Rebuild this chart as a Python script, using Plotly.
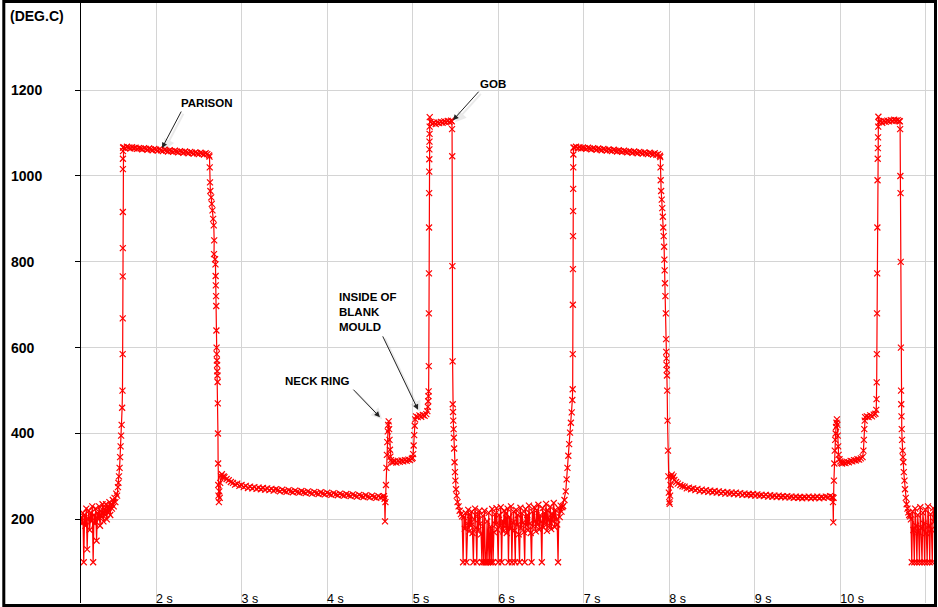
import plotly.graph_objects as go

# ---------------- axis ticks ----------------
time_ticks = [2, 3, 4, 5, 6, 7, 8, 9, 10, 11]
time_tick_labels = ["2 s", "3 s", "4 s", "5 s", "6 s", "7 s", "8 s", "9 s", "10 s", ""]
temp_ticks = [200, 400, 600, 800, 1000, 1200]
temp_tick_labels = ["200\u2007", "400\u2007", "600\u2007", "800\u2007", "1000", "1200"]

# ---------------- data (time s, temperature deg C) ----------------
# uniformly sampled stretches: start time, sample step, temperatures
noise1_t0, noise1_dt = 1.125, 0.01
noise1_temp = [205, 190, 215, 100, 210, 185, 225, 130, 200, 220, 175, 215, 195, 230, 100, 210, 190, 225, 150, 215,
               200, 230, 185, 220, 205, 235, 195, 225, 210, 235, 200, 230, 215, 240, 210, 235, 225, 245, 230, 250,
               240, 260, 255, 275]

rise1_time = [1.560, 1.567, 1.574, 1.580, 1.586, 1.592, 1.598, 1.604, 1.608, 1.610, 1.611, 1.611, 1.612, 1.612,
              1.613, 1.613, 1.614, 1.615]
rise1_temp = [285, 300, 320, 345, 370, 395, 420, 460, 500, 585, 668, 766, 832, 916, 1016, 1040, 1058, 1066]

parison1_t0, parison1_dt = 1.62, 0.02
parison1_temp = [1067, 1065, 1068, 1066, 1064, 1067, 1065, 1066, 1063, 1065,
                 1064, 1062, 1065, 1063, 1061, 1064, 1062, 1060, 1063, 1061,
                 1059, 1062, 1060, 1058, 1061, 1059, 1057, 1060, 1058, 1056,
                 1059, 1057, 1055, 1058, 1056, 1054, 1057, 1055, 1053, 1056,
                 1054, 1052, 1055, 1053, 1051, 1054, 1052, 1050, 1053, 1051,
                 1048]

fall1_time = [2.625, 2.628, 2.631, 2.635, 2.645, 2.652, 2.660, 2.668, 2.675, 2.680, 2.678, 2.690, 2.695, 2.697,
              2.699, 2.702, 2.704, 2.706, 2.708, 2.710, 2.712, 2.714, 2.716, 2.718, 2.720, 2.722, 2.724, 2.726,
              2.728, 2.730, 2.735, 2.740, 2.745, 2.750, 2.760, 2.770, 2.780, 2.790]
fall1_temp = [1045, 1020, 985, 965, 950, 935, 920, 900, 885, 850, 818, 806, 794, 767,
              745, 720, 697, 640, 600, 585, 570, 560, 545, 535, 520, 470, 400, 330,
              280, 255, 240, 265, 250, 285, 300, 305, 298, 300]

decay1_t0, decay1_dt = 2.80, 0.025
decay1_temp = [298, 294, 291, 287, 285, 281, 283, 278, 280, 275,
               278, 273, 276, 272, 275, 271, 274, 270, 273, 269,
               272, 268, 271, 267, 270, 268, 265, 269, 266, 264,
               268, 265, 263, 267, 264, 262, 266, 263, 261, 265,
               262, 260, 264, 261, 259, 263, 260, 258, 262, 259,
               257, 261, 258, 256, 260, 257, 255, 259, 256, 254,
               258, 255, 253, 257, 254, 252, 256, 253, 251, 255,
               252, 250, 254, 251, 253]

neck1_time = [4.665, 4.672, 4.677, 4.682, 4.688, 4.694, 4.699, 4.704, 4.709, 4.714, 4.720, 4.725, 4.730, 4.735,
              4.740, 4.747, 4.755]
neck1_temp = [254, 248, 195, 240, 280, 320, 350, 380, 405, 420, 428, 410, 385, 362, 346, 338, 334]

flat1_t0, flat1_dt = 4.77, 0.02
flat1_temp = [333, 335, 332, 336, 334, 337, 335, 338, 336, 339, 338, 341]

step1_time = [5.000, 5.006, 5.012, 5.018, 5.024, 5.030, 5.040, 5.060, 5.080, 5.100, 5.120, 5.140, 5.160, 5.172,
              5.178, 5.182, 5.185, 5.187, 5.189, 5.190, 5.191, 5.192, 5.193, 5.194, 5.195, 5.196, 5.197, 5.198,
              5.199, 5.200]
step1_temp = [343, 352, 372, 396, 418, 433, 440, 438, 442, 439, 443, 441, 445, 452,
              462, 475, 487, 498, 557, 680, 773, 880, 960, 1010, 1039, 1062, 1080, 1098,
              1115, 1137]

gob1_t0, gob1_dt = 5.21, 0.02
gob1_temp = [1126, 1122, 1124, 1121, 1125, 1123, 1126, 1124, 1127, 1125, 1128, 1126, 1129]

drop1_time = [5.458, 5.461, 5.463, 5.465, 5.467, 5.469, 5.472, 5.475, 5.479, 5.482, 5.485, 5.490, 5.495, 5.500,
              5.507, 5.515, 5.525, 5.537, 5.550, 5.565, 5.578]
drop1_temp = [1127, 1109, 1046, 790, 568, 468, 450, 430, 410, 390, 365, 333, 310, 290,
              270, 255, 240, 230, 220, 212, 207]

noise2_t0, noise2_dt = 5.59, 0.01
noise2_temp = [100, 205, 178, 215, 100, 190, 222, 172, 210, 185,
               218, 168, 100, 200, 225, 180, 100, 212, 175, 220,
               190, 165, 100, 208, 100, 220, 100, 100, 195, 100,
               215, 100, 183, 100, 224, 100, 170, 212, 188, 226,
               176, 100, 210, 185, 228, 100, 196, 172, 220, 182,
               214, 168, 225, 100, 205, 178, 230, 100, 192, 218,
               174, 100, 222, 186, 210, 165, 100, 227, 180, 214,
               192, 170, 100, 224, 186, 210, 175, 232, 190, 168,
               100, 218, 183, 228, 196, 172, 221, 187, 234, 176,
               209, 194, 100, 226, 181, 215, 190, 236, 173, 220,
               198, 185, 229, 177, 213, 195, 238, 182, 222, 200,
               188, 100, 225, 205, 232, 218, 228]

rise2_time = [6.760, 6.775, 6.790, 6.800, 6.810, 6.820, 6.830, 6.840, 6.850, 6.860, 6.867, 6.871, 6.872, 6.873,
              6.874, 6.875, 6.876, 6.877, 6.878, 6.879, 6.880]
rise2_temp = [231, 245, 265, 293, 320, 348, 375, 402, 425, 449, 478, 503, 585, 700,
              783, 860, 918, 970, 1020, 1050, 1066]

parison2_t0, parison2_dt = 6.89, 0.02
parison2_temp = [1066, 1068, 1065, 1067, 1064, 1066, 1065, 1063, 1066, 1064,
                 1062, 1065, 1063, 1061, 1064, 1062, 1060, 1063, 1061, 1059,
                 1062, 1060, 1058, 1061, 1059, 1057, 1060, 1058, 1056, 1059,
                 1057, 1055, 1058, 1056, 1054, 1057, 1055, 1053, 1056, 1054,
                 1052, 1055, 1053, 1051, 1054, 1052, 1050, 1053, 1049, 1051,
                 1047]

fall2_time = [7.895, 7.898, 7.900, 7.905, 7.912, 7.918, 7.925, 7.930, 7.935, 7.940,
              7.943, 7.946, 7.950, 7.955, 7.960, 7.963, 7.965, 7.967, 7.969, 7.971,
              7.973, 7.976, 7.980, 7.985, 7.990, 7.995, 8.000, 8.005, 8.010, 8.015,
              8.020, 8.030, 8.040, 8.050, 8.060, 8.080, 8.100, 8.130, 8.155]
fall2_temp = [1044, 1020, 990, 965, 945, 925, 905, 880, 860, 835,
              805, 780, 750, 720, 680, 620, 590, 575, 560, 548,
              535, 500, 430, 360, 300, 262, 240, 236, 255, 280,
              300, 304, 296, 300, 292, 287, 283, 280, 277]

decay2_t0, decay2_dt = 8.18, 0.025
decay2_temp = [276, 272, 274, 270, 272, 268, 271, 266, 269, 265,
               268, 264, 267, 263, 266, 262, 265, 261, 264, 260,
               263, 260, 262, 259, 262, 258, 261, 257, 260, 257,
               259, 256, 259, 255, 258, 255, 257, 254, 257, 253,
               256, 253, 255, 252, 255, 252, 254, 251, 254, 251,
               253, 250, 253, 250, 252, 249, 252, 250, 253, 249,
               252, 250, 253, 249, 252, 250, 253, 251, 254, 252]

neck2_time = [9.910, 9.914, 9.918, 9.921, 9.925, 9.930, 9.935, 9.940, 9.945, 9.950, 9.955, 9.960, 9.965, 9.970,
              9.975, 9.980, 9.990, 10.000, 10.010]
neck2_temp = [251, 240, 193, 250, 290, 330, 360, 385, 400, 415, 425, 433, 420, 395,
              370, 350, 340, 335, 332]

flat2_t0, flat2_dt = 10.02, 0.02
flat2_temp = [330, 332, 331, 334, 333, 336, 335, 338, 337, 340, 339, 342, 345]

step2_time = [10.270, 10.275, 10.280, 10.285, 10.290, 10.310, 10.330, 10.350, 10.370, 10.390, 10.410, 10.420,
              10.423, 10.425, 10.427, 10.429, 10.431, 10.433, 10.435, 10.437, 10.439, 10.441, 10.443, 10.445]
step2_temp = [360, 385, 410, 430, 438, 440, 438, 442, 440, 444, 446, 455,
              480, 519, 585, 680, 773, 880, 990, 1040, 1065, 1090, 1115, 1138]

gob2_t0, gob2_dt = 10.45, 0.02
gob2_temp = [1125, 1127, 1124, 1128, 1126, 1129, 1127, 1130, 1128, 1131, 1129, 1130, 1128]

drop2_time = [10.696, 10.699, 10.702, 10.704, 10.706, 10.708, 10.710, 10.712, 10.715, 10.718, 10.722, 10.727,
              10.732, 10.737, 10.742, 10.750, 10.756, 10.765, 10.775, 10.785, 10.795, 10.805, 10.815]
drop2_temp = [1127, 1109, 1000, 960, 800, 600, 500, 468, 440, 410, 385, 360,
              345, 333, 310, 290, 270, 250, 235, 225, 216, 210, 207]

noise3_t0, noise3_dt = 10.825, 0.01
noise3_temp = [200, 100, 218, 175, 100, 225, 185, 100, 210, 170, 100, 228, 180, 100,
               215, 190, 100, 222, 168, 100, 230, 185, 100, 212, 176, 100, 226, 194]


def sampled(t0, dt, temps):
    return [round(t0 + i * dt, 4) for i in range(len(temps))], list(temps)


segments = [
    sampled(noise1_t0, noise1_dt, noise1_temp),
    (rise1_time, rise1_temp),
    sampled(parison1_t0, parison1_dt, parison1_temp),
    (fall1_time, fall1_temp),
    sampled(decay1_t0, decay1_dt, decay1_temp),
    (neck1_time, neck1_temp),
    sampled(flat1_t0, flat1_dt, flat1_temp),
    (step1_time, step1_temp),
    sampled(gob1_t0, gob1_dt, gob1_temp),
    (drop1_time, drop1_temp),
    sampled(noise2_t0, noise2_dt, noise2_temp),
    (rise2_time, rise2_temp),
    sampled(parison2_t0, parison2_dt, parison2_temp),
    (fall2_time, fall2_temp),
    sampled(decay2_t0, decay2_dt, decay2_temp),
    (neck2_time, neck2_temp),
    sampled(flat2_t0, flat2_dt, flat2_temp),
    (step2_time, step2_temp),
    sampled(gob2_t0, gob2_dt, gob2_temp),
    (drop2_time, drop2_temp),
    sampled(noise3_t0, noise3_dt, noise3_temp),
]

time_s, temp_c = [], []
for ts, vs in segments:
    time_s += list(ts)
    temp_c += list(vs)

FONT = "Liberation Sans, Arial, Helvetica, sans-serif"
RED = "#ff0000"

fig = go.Figure()
fig.add_trace(go.Scatter(
    x=time_s, y=temp_c, mode="lines+markers",
    line=dict(color=RED, width=1.2),
    marker=dict(symbol="x-thin", size=6, color=RED, line=dict(color=RED, width=1.2)),
    showlegend=False, hoverinfo="skip",
))

W, H = 938, 607
ML, MR, MT, MB = 81, 4, 3, 4
PW, PH = W - ML - MR, H - MT - MB


def px_x(px):
    return (px - ML) / PW


def px_y(py):
    return (H - MB - py) / PH


annotations = []
# text labels
label_font = dict(family=FONT, size=11.5, color="black", weight="bold")
annotations += [
    dict(x=2.60, y=1170, text="PARISON", showarrow=False, font=label_font, xanchor="center", yanchor="middle"),
    dict(x=5.94, y=1214, text="GOB", showarrow=False, font=label_font, xanchor="center", yanchor="middle"),
    dict(x=3.888, y=522, text="NECK RING", showarrow=False, font=label_font, xanchor="center", yanchor="middle"),
    dict(x=4.116, y=682, text="INSIDE OF<br>BLANK<br>MOULD", showarrow=False, font=label_font,
         xanchor="left", yanchor="middle", align="left"),
]
# arrows (head at data point, tail offset in px), with a faint drop shadow
for hx, hy, ax, ay in [(2.070, 1065, 20, -38), (5.472, 1130, 27, -30),
                       (4.618, 438, -28, -29), (5.063, 455, -36, -75)]:
    annotations.append(dict(x=hx + 0.025, y=hy - 5, text="", showarrow=True, ax=ax, ay=ay,
                            arrowhead=2, arrowsize=1.1, arrowwidth=2, arrowcolor="rgba(0,0,0,0.08)"))
    annotations.append(dict(x=hx, y=hy, text="", showarrow=True, ax=ax, ay=ay,
                            arrowhead=2, arrowsize=1.1, arrowwidth=1, arrowcolor="#222222"))
# unit label
annotations.append(dict(xref="paper", yref="paper", x=px_x(8), y=px_y(16), text="(DEG.C)", showarrow=False,
                        xanchor="left", yanchor="middle",
                        font=dict(family=FONT, size=14, color="black", weight="bold")))

shapes = [dict(type="rect", xref="paper", yref="paper", layer="above",
               x0=px_x(3.8), x1=px_x(935.5), y0=px_y(605.5), y1=px_y(1.5),
               line=dict(color="black", width=3), fillcolor="rgba(0,0,0,0)")]

fig.update_layout(
    width=W, height=H,
    margin=dict(l=ML, r=MR, t=MT, b=MB, pad=0, autoexpand=False),
    paper_bgcolor="white", plot_bgcolor="white",
    font=dict(family=FONT, color="black"),
    xaxis=dict(range=[1.123, 11.095], tickvals=time_ticks, ticktext=time_tick_labels,
               ticks="", showline=False, zeroline=False, showgrid=True, automargin=False,
               gridcolor="#d4d4d4", gridwidth=1, ticklabelposition="inside right",
               ticklabelstandoff=-8,
               tickfont=dict(family=FONT, size=12.5, color="black")),
    yaxis=dict(range=[5, 1403], tickvals=temp_ticks, ticktext=temp_tick_labels,
               ticks="outside", ticklen=5, tickwidth=1, tickcolor="black", automargin=False,
               showline=True, linecolor="black", linewidth=1, zeroline=False,
               showgrid=True, gridcolor="#d4d4d4", gridwidth=1, ticklabelstandoff=30,
               tickfont=dict(family=FONT, size=14, color="black", weight="bold")),
    annotations=annotations,
    shapes=shapes,
)

fig.write_html(
    "out.html",
    config={"displayModeBar": False},
    post_script="document.body.style.margin='0px';document.body.style.overflow='hidden';",
)
